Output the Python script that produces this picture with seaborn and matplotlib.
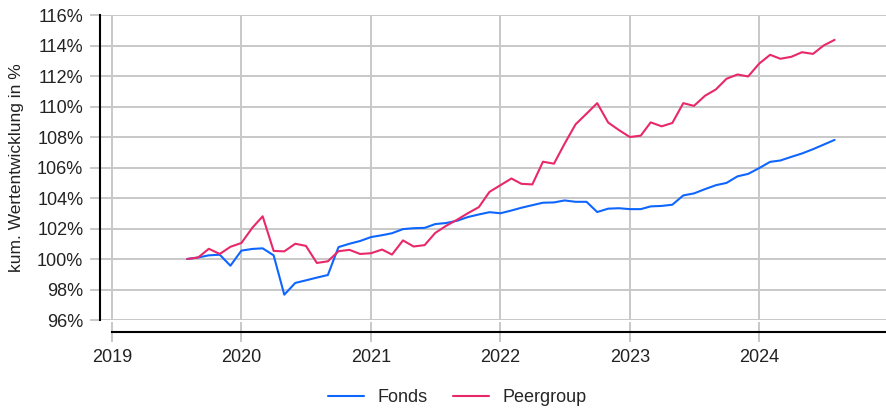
import pandas as pd
import matplotlib
matplotlib.use("Agg")
import matplotlib.pyplot as plt
import matplotlib.dates as mdates
import seaborn as sns

# monthly values, Aug 2019 - Aug 2024
dates = pd.date_range("2019-08-01", "2024-08-01", freq="MS")

fonds = [100.0, 100.1, 100.24, 100.28, 99.56, 100.55, 100.66, 100.7, 100.24, 97.66,
         98.43, 98.6, 98.78, 98.95, 100.78, 101.0, 101.18, 101.44, 101.56, 101.69,
         101.96, 102.02, 102.04, 102.29, 102.36, 102.51, 102.75, 102.92, 103.07, 103.0,
         103.18, 103.36, 103.53, 103.69, 103.71, 103.84, 103.75, 103.75, 103.08, 103.3,
         103.33, 103.27, 103.27, 103.45, 103.48, 103.56, 104.17, 104.3, 104.58, 104.84,
         104.99, 105.42, 105.58, 105.96, 106.37, 106.46, 106.7, 106.92, 107.2, 107.5,
         107.81]

peergroup = [100.0, 100.1, 100.67, 100.33, 100.8, 101.05, 102.05, 102.8, 100.53, 100.5,
             101.0, 100.86, 99.74, 99.85, 100.51, 100.6, 100.33, 100.38, 100.62, 100.29,
             101.22, 100.82, 100.91, 101.71, 102.18, 102.58, 103.0, 103.4, 104.4, 104.84,
             105.28, 104.93, 104.89, 106.38, 106.25, 107.56, 108.83, 109.53, 110.22, 108.95,
             108.46, 108.0, 108.09, 108.96, 108.7, 108.92, 110.22, 110.04, 110.7, 111.12,
             111.82, 112.1, 111.97, 112.81, 113.39, 113.13, 113.26, 113.56, 113.45, 114.0,
             114.37]

series_names = ["Fonds", "Peergroup"]
colors = ["#0f66ff", "#e8286a"]
y_ticks = list(range(96, 117, 2))
y_labels = [f"{v}%" for v in y_ticks]
x_years = [2019, 2020, 2021, 2022, 2023, 2024]

df = pd.concat([
    pd.DataFrame({"date": dates, "value": fonds, "series": "Fonds"}),
    pd.DataFrame({"date": dates, "value": peergroup, "series": "Peergroup"}),
])

sns.set_style("white")
plt.rcParams["font.family"] = ["Liberation Sans", "DejaVu Sans"]

W, H = 886, 408
fig = plt.figure(figsize=(W / 100, H / 100), dpi=100)
ax = fig.add_axes([100 / W, (H - 320) / H, (886 - 100) / W, (320 - 15) / H])

sns.lineplot(data=df, x="date", y="value", hue="series", hue_order=series_names,
             palette=colors, linewidth=1.5, ax=ax, legend=True)

ax.set_ylim(96, 116)
ax.set_xlim(pd.Timestamp("2018-11-28"), pd.Timestamp("2024-12-24"))

ax.set_yticks(y_ticks)
ax.set_yticklabels(y_labels)
year_ticks = [pd.Timestamp(f"{y}-01-01") for y in x_years]
ax.set_xticks(year_ticks)
ax.set_xticklabels([str(y) for y in x_years])

ax.grid(True, color="#c8c8c8", linewidth=1.4)
ax.set_axisbelow(True)

for s in ["top", "right"]:
    ax.spines[s].set_visible(False)
ax.spines["left"].set_color("black")
ax.spines["left"].set_linewidth(1.5)
ax.spines["left"].set_bounds(96, 116)
ax.spines["bottom"].set_color("black")
ax.spines["bottom"].set_linewidth(1.5)
ax.spines["bottom"].set_position(("outward", 8.6))
ax.spines["bottom"].set_bounds(mdates.date2num(pd.Timestamp("2019-01-01")),
                               mdates.date2num(pd.Timestamp("2024-12-24")))

ax.tick_params(axis="y", length=7, width=1.4, color="#c8c8c8", labelsize=13,
               labelcolor="#222222", pad=5, left=True)
ax.tick_params(axis="x", direction="inout", length=14, width=1.4, color="#c8c8c8",
               labelsize=13, labelcolor="#222222", pad=5, bottom=True)

ax.set_xlabel("")
ax.set_ylabel("kum. Wertentwicklung in %", fontsize=12.5, color="#222222")
ax.yaxis.set_label_coords(-76 / 786, 0.5)

handles, labels = ax.get_legend_handles_labels()
ax.legend(handles, labels, loc="center", bbox_to_anchor=(457 / W, 10 / H),
          bbox_transform=fig.transFigure, ncol=2, frameon=False, fontsize=13,
          handlelength=2.0, handletextpad=0.75, columnspacing=1.4)

fig.savefig("out.png", dpi=100)
